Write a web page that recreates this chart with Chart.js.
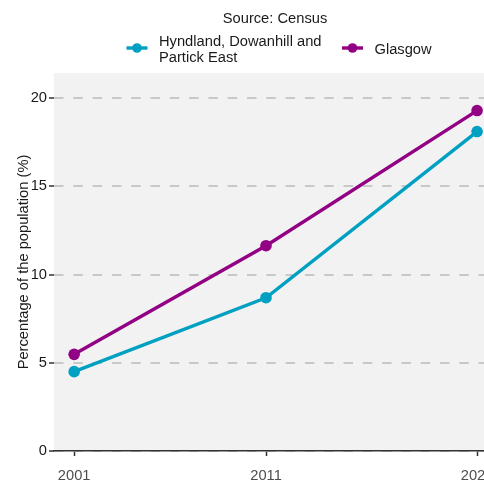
<!DOCTYPE html>
<html>
<head>
<meta charset="utf-8">
<script src="https://cdn.jsdelivr.net/npm/chart.js@4.4.1/dist/chart.umd.min.js"></script>
<style>
    html, body { margin: 0; padding: 0; background: #ffffff; }
    #quadro { width: 484px; height: 480px; overflow: hidden; position: relative; }
</style>
</head>
<body>
<div id="quadro">
    <canvas id="lineChart" width="503" height="500"></canvas>
</div>
<script>

// =========================
// DADOS
// =========================

const anos = [2001, 2011, 2022];

const series = ["Hyndland, Dowanhill and\nPartick East", "Glasgow"];

const valoresHyndland = [4.50, 8.69, 18.11];

const valoresGlasgow = [5.48, 11.64, 19.30];

const ticksY = [0, 5, 10, 15, 20];

const legendaTitulo = "Source: Census";

const tituloY = "Percentage of the population (%)";

const cores = ["#00a0c2", "#920083"];

const fonte = "'Liberation Sans', Arial, sans-serif";

const tamanhoFonte = 14.7;


// =========================
// PLUGINS
// =========================

const fundoPainel = {
    id: "fundoPainel",
    beforeDraw(chart) {
        const { ctx, chartArea: a } = chart;
        ctx.save();
        ctx.fillStyle = "#f2f2f2";
        ctx.fillRect(a.left, a.top, a.right - a.left, a.bottom - a.top);
        ctx.restore();
    }
};

const legendaTopo = {
    id: "legendaTopo",
    afterDraw(chart) {
        const ctx = chart.ctx;
        ctx.save();
        ctx.font = tamanhoFonte + "px " + fonte;
        ctx.fillStyle = "#1a1a1a";
        ctx.textBaseline = "alphabetic";
        ctx.textAlign = "center";
        ctx.fillText(legendaTitulo, 275, 22.5);

        const itens = [
            { x: 137, texto: series[0], cor: cores[0] },
            { x: 352.5, texto: series[1], cor: cores[1] }
        ];
        const yMarca = 48;

        itens.forEach(item => {
            ctx.strokeStyle = item.cor;
            ctx.lineWidth = 3.4;
            ctx.beginPath();
            ctx.moveTo(item.x - 10.5, yMarca);
            ctx.lineTo(item.x + 10.5, yMarca);
            ctx.stroke();
            ctx.fillStyle = item.cor;
            ctx.beginPath();
            ctx.arc(item.x, yMarca, 4.8, 0, Math.PI * 2);
            ctx.fill();

            const linhas = item.texto.split("\n");
            ctx.fillStyle = "#1a1a1a";
            ctx.textAlign = "left";
            const alturaLinha = 15.7;
            const base = yMarca + 6 - (linhas.length - 1) * alturaLinha / 2;
            linhas.forEach((l, i) => {
                ctx.fillText(l, item.x + 22, base + i * alturaLinha);
            });
        });
        ctx.restore();
    }
};


// =========================
// GRÁFICO
// =========================

function criarGrafico() {

    const ctx = document.getElementById("lineChart");

    return new Chart(ctx, {

        type: "line",

        data: {

            datasets: [
                {
                    label: series[0],
                    data: anos.map((a, i) => ({ x: a, y: valoresHyndland[i] })),
                    borderColor: cores[0],
                    backgroundColor: cores[0],
                    pointBackgroundColor: cores[0],
                    borderWidth: 3.4,
                    pointRadius: 5.8,
                    pointBorderWidth: 0,
                    tension: 0
                },
                {
                    label: series[1],
                    data: anos.map((a, i) => ({ x: a, y: valoresGlasgow[i] })),
                    borderColor: cores[1],
                    backgroundColor: cores[1],
                    pointBackgroundColor: cores[1],
                    borderWidth: 3.4,
                    pointRadius: 5.8,
                    pointBorderWidth: 0,
                    tension: 0
                }
            ]

        },

        options: {

            responsive: false,
            animation: false,
            devicePixelRatio: 1,

            layout: {
                padding: { top: 73, right: 2, left: 0, bottom: 0 }
            },

            plugins: {
                legend: { display: false },
                tooltip: { enabled: false }
            },

            scales: {

                x: {
                    type: "linear",
                    min: 1999.95,
                    max: 2023.05,
                    afterBuildTicks: s => { s.ticks = anos.map(v => ({ value: v })); },
                    afterFit: s => {
                        s.height = 49;
                        s.paddingLeft = 0;
                        s.paddingRight = 0;
                    },
                    border: { display: true, color: "#333333", width: 1.5 },
                    grid: {
                        drawOnChartArea: false,
                        drawTicks: true,
                        tickLength: 5,
                        tickColor: "#333333",
                        tickWidth: 1.5
                    },
                    ticks: {
                        callback: v => String(v),
                        color: "#4d4d4d",
                        font: { family: fonte, size: tamanhoFonte },
                        padding: 11,
                        maxRotation: 0,
                        autoSkip: false
                    }
                },

                y: {
                    min: 0,
                    max: 21.43,
                    afterBuildTicks: s => { s.ticks = ticksY.map(v => ({ value: v })); },
                    afterFit: s => {
                        s.width = 54;
                        s.paddingTop = 0;
                        s.paddingBottom = 0;
                    },
                    border: { display: false, dash: [9.5, 9.8] },
                    grid: {
                        color: "#c8c8c8",
                        lineWidth: 2,
                        drawTicks: true,
                        tickLength: 5,
                        tickColor: "#333333",
                        tickWidth: 1.5,
                        tickBorderDash: []
                    },
                    ticks: {
                        color: "#1a1a1a",
                        font: { family: fonte, size: tamanhoFonte },
                        padding: 2
                    },
                    title: {
                        display: true,
                        text: tituloY,
                        color: "#1a1a1a",
                        font: { family: fonte, size: tamanhoFonte },
                        padding: { top: 15, bottom: 0 }
                    }
                }

            }

        },

        plugins: [fundoPainel, legendaTopo]

    });

}

criarGrafico();

</script>
</body>
</html>
